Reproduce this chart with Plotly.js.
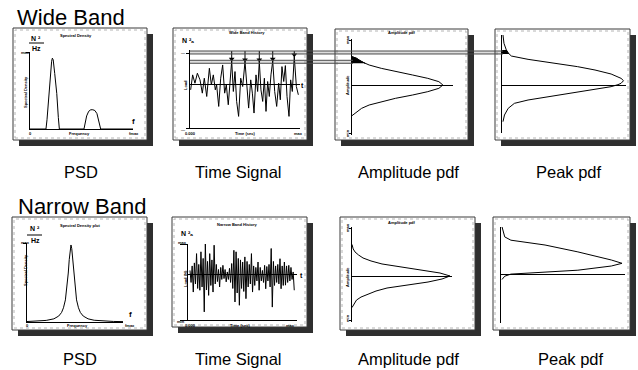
<!DOCTYPE html>
<html>
<head>
<meta charset="utf-8">
<script src="https://cdn.plot.ly/plotly-3.0.1.min.js"></script>
<style>
  html, body { margin: 0; padding: 0; background: #fff; }
  #chart { width: 638px; height: 370px; }
</style>
</head>
<body>
<div id="chart"></div>
<script>
// ---------------- data ----------------
// Wide band PSD (normalised frequency, normalised density)
const psdWideFreq = [0, 0.155, 0.165, 0.184, 0.200, 0.210, 0.217, 0.225, 0.240, 0.260, 0.275, 0.285,
                     0.524, 0.535, 0.550, 0.570, 0.590, 0.610, 0.630, 0.650, 0.665, 0.680, 0.686, 1.0];
const psdWideVal  = [0, 0, 0.12, 0.46, 0.75, 0.88, 0.92, 0.90, 0.72, 0.46, 0.15, 0,
                     0, 0.08, 0.17, 0.23, 0.25, 0.25, 0.24, 0.20, 0.13, 0.04, 0, 0];

// Wide band time history (normalised time, signal)
const timeWideT = [0.006, 0.024, 0.045, 0.067, 0.091, 0.112, 0.130, 0.152, 0.176, 0.194, 0.212, 0.230,
                   0.242, 0.261, 0.279, 0.297, 0.315, 0.330, 0.348, 0.364, 0.379, 0.394, 0.409, 0.424,
                   0.442, 0.461, 0.479, 0.500, 0.515, 0.533, 0.552, 0.567, 0.582, 0.600, 0.615, 0.630,
                   0.645, 0.661, 0.676, 0.691, 0.706, 0.721, 0.736, 0.752, 0.770, 0.788, 0.806, 0.821,
                   0.836, 0.852, 0.867, 0.882, 0.900, 0.915, 0.930, 0.948, 0.967, 0.985];
const timeWideV = [-0.15, 0.30, 0.05, 0.35, 0.15, -0.25, 0.20, -0.35, 0.50, 0.00, 0.30, -0.15,
                   0.00, -0.65, 0.20, 0.60, -0.25, 0.00, -0.60, 0.10, 0.72, -0.20, 0.40, -0.50,
                   -0.95, 0.20, -0.05, 0.70, -0.10, -0.70, 0.15, -0.25, -0.85, 0.30, -0.20, 0.70,
                   -0.15, -0.50, 0.20, -0.80, 0.10, -0.35, 0.30, 0.72, -0.20, -0.65, 0.05, -0.45,
                   0.55, 0.10, 0.58, -0.35, -0.95, 0.15, -0.20, 0.85, -0.05, -0.30];

// Peak level bands carried over to the pdf panels (signal units)
const bandUpper = [0.93, 1.02];
const bandLower = [0.65, 0.74];
const peakThreshold = 0.65;

// Wide band amplitude pdf (signal level, density)
const ampWideLevel = [-0.92, -0.85, -0.8, -0.7, -0.6, -0.5, -0.4, -0.3, -0.2, -0.1, 0,
                      0.1, 0.2, 0.3, 0.4, 0.5, 0.6, 0.65, 0.7, 0.75, 0.8, 0.85];
const ampWidePdf   = [0, 0.03, 0.05, 0.095, 0.17, 0.29, 0.43, 0.60, 0.75, 0.86, 0.90,
                      0.86, 0.75, 0.60, 0.43, 0.29, 0.17, 0.13, 0.095, 0.07, 0.045, 0];

// Wide band peak pdf (peak level, density)
const peakWideLevel = [-1.10, -0.90, -0.70, -0.55, -0.45, -0.37, -0.30, -0.21, -0.12, -0.05, 0.01,
                       0.05, 0.13, 0.20, 0.33, 0.45, 0.55, 0.62, 0.69, 0.77, 0.87, 0.93, 0.98,
                       1.05, 1.25, 1.50];
const peakWidePdf   = [0.008, 0.02, 0.05, 0.10, 0.21, 0.344, 0.48, 0.61, 0.75, 0.88, 0.935,
                       0.96, 0.98, 0.96, 0.88, 0.75, 0.61, 0.48, 0.344, 0.21, 0.075, 0.055, 0.045,
                       0.035, 0.016, 0.008];

// Narrow band PSD
const psdNarrowFreq = [0, 0.10, 0.20, 0.28, 0.33, 0.36, 0.38, 0.40, 0.42, 0.43, 0.44, 0.45, 0.458,
                       0.466, 0.476, 0.486, 0.496, 0.516, 0.536, 0.556, 0.586, 0.636, 0.70, 0.80, 0.90, 1.0];
const psdNarrowVal  = [0.006, 0.010, 0.020, 0.040, 0.075, 0.12, 0.18, 0.28, 0.47, 0.62, 0.79, 0.93, 0.975,
                       0.93, 0.79, 0.62, 0.47, 0.28, 0.18, 0.12, 0.075, 0.040, 0.022, 0.011, 0.007, 0.005];

// Narrow band time history (one value per sample)
const timeNarrowV = [0.15, -0.25, 0.30, -0.57, 0.40, -0.30, 0.71, -0.45, 0.35, -0.51, 0.77, -0.40,
                     0.55, -1.23, 1.04, -0.50, 0.45, -0.68, 0.71, -0.35, 0.50, -0.57, 0.99, -0.30,
                     0.35, -0.22, 0.18, -0.40, 0.25, -0.15, 0.32, -0.12, 0.18, -0.23, 0.10, -0.15,
                     0.22, -0.25, 0.38, -0.45, 0.82, -0.90, 0.77, -0.60, 0.55, -1.01, 0.50, -0.45,
                     0.43, -0.55, 0.60, -0.79, 0.45, -0.40, 0.35, -0.30, 0.71, -0.57, 0.30, -0.35,
                     0.25, -0.20, 0.43, -0.51, 0.25, -0.20, 0.15, -0.25, 0.32, -0.46, 0.28, -0.20,
                     0.35, -0.40, 0.88, -1.07, 0.45, -0.35, 0.30, -0.25, 0.35, -0.30, 0.54, -0.46,
                     0.30, -0.35, 0.43, -0.34, 0.30, -0.25, 0.32, -0.20, 0.25, -0.15, 0.10, -0.51];

// Narrow band amplitude pdf
const ampNarrowLevel = [-1.05, -0.9, -0.8, -0.7, -0.6, -0.5, -0.4, -0.3, -0.2, -0.1, 0,
                        0.1, 0.2, 0.3, 0.4, 0.5, 0.6, 0.7, 0.8, 0.9, 1.05];
const ampNarrowPdf   = [0, 0.025, 0.045, 0.09, 0.16, 0.24, 0.35, 0.55, 0.76, 0.90, 0.98,
                        0.88, 0.68, 0.45, 0.30, 0.19, 0.11, 0.065, 0.03, 0.012, 0];

// Narrow band peak pdf
const peakNarrowLevel = [-0.18, -0.07, 0.0, 0.07, 0.13, 0.27, 0.36, 0.47, 0.74, 0.97, 1.13, 1.24, 1.58];
const peakNarrowPdf   = [0.008, 0.03, 0.08, 0.355, 0.62, 0.89, 0.976, 0.89, 0.62, 0.355, 0.08, 0.03, 0.008];

// Panel captions
const rowTitles = ['Wide Band', 'Narrow Band'];
const captions = ['PSD', 'Time Signal', 'Amplitude pdf', 'Peak pdf'];

// ---------------- layout helpers ----------------
const W = 638, H = 370;
const px = x => x / W;
const py = y => 1 - y / H;
const xdom = (a, b) => [a / W, b / W];
const ydom = (top, bot) => [1 - bot / H, 1 - top / H];
const FONT = 'Liberation Sans, Arial, Helvetica, sans-serif';
const BLK = '#000';

const shapes = [];
const annotations = [];
const traces = [];

function frame(x0, y0, x1, y1) {
  shapes.push({type: 'rect', xref: 'paper', yref: 'paper', layer: 'below',
    x0: px(x0 + 6), x1: px(x1 + 6), y0: py(y1 + 6), y1: py(y0 + 6),
    fillcolor: '#2f2f2f', line: {width: 0}});
  shapes.push({type: 'rect', xref: 'paper', yref: 'paper', layer: 'below',
    x0: px(x0), x1: px(x1), y0: py(y1), y1: py(y0),
    fillcolor: '#ffffff', line: {color: '#3a3a3a', width: 1}});
  shapes.push({type: 'rect', xref: 'paper', yref: 'paper', layer: 'below',
    x0: px(x0 + 2), x1: px(x1 - 2), y0: py(y1 - 2), y1: py(y0 + 2),
    fillcolor: 'rgba(0,0,0,0)', line: {color: '#b4b4b4', width: 1, dash: 'dot'}});
}

function text(x, y, t, size, extra) {
  annotations.push(Object.assign({
    xref: 'paper', yref: 'paper', x: px(x), y: py(y), text: t, showarrow: false,
    xanchor: 'center', yanchor: 'middle', borderpad: 0,
    font: {family: FONT, size: size, color: BLK}
  }, extra || {}));
}
const tiny = (x, y, t, angle) => text(x, y, '<b>' + t + '</b>', 4, angle ? {textangle: angle} : {});

function axis(domain, range, extra) {
  return Object.assign({
    domain: domain, range: range, showgrid: false, zeroline: false, showticklabels: false,
    ticks: '', showline: false, linecolor: BLK, linewidth: 1, fixedrange: true
  }, extra || {});
}
const lineAxis = {showline: true};
const zeroAxis = {zeroline: true, zerolinecolor: BLK, zerolinewidth: 1};
const tickAxis = (vals, len) => ({tickmode: 'array', tickvals: vals, ticks: 'outside',
                                  ticklen: len, tickcolor: BLK, tickwidth: 1});

function curve(x, y, n, w) {
  traces.push({x: x, y: y, xaxis: 'x' + (n > 1 ? n : ''), yaxis: 'y' + (n > 1 ? n : ''),
               mode: 'lines', line: {color: BLK, width: w || 1}, hoverinfo: 'skip'});
}
function tail(levels, pdf, lo, hi, n) {
  const idx = levels.map((v, i) => i).filter(i => levels[i] >= lo && levels[i] <= hi);
  traces.push({x: idx.map(i => pdf[i]), y: idx.map(i => levels[i]),
               xaxis: 'x' + n, yaxis: 'y' + n, mode: 'lines', fill: 'tozerox',
               fillcolor: BLK, line: {color: BLK, width: 1}, hoverinfo: 'skip'});
}

// ---------------- panel frames ----------------
frame(13, 28, 147, 140);
frame(173, 28, 307, 140);
frame(335, 29, 468, 140);
frame(495, 29, 630, 140);
frame(12, 217, 147, 330);
frame(172, 217, 307, 327);
frame(340, 217, 475, 330);
frame(493, 217, 630, 330);

// ---------------- wide band row ----------------
curve(psdWideFreq, psdWideVal, 1);
curve(timeWideT, timeWideV, 2);

// peak markers on the wide band history
const peaks = timeWideV.map((v, i) => i).filter(i =>
  timeWideV[i] > peakThreshold &&
  (i === 0 || timeWideV[i] > timeWideV[i - 1]) &&
  (i === timeWideV.length - 1 || timeWideV[i] > timeWideV[i + 1]));
const stemX = [], stemY = [];
peaks.forEach(i => { stemX.push(timeWideT[i], timeWideT[i], null); stemY.push(timeWideV[i], bandUpper[1], null); });
traces.push({x: stemX, y: stemY, xaxis: 'x2', yaxis: 'y2', mode: 'lines',
             line: {color: BLK, width: 1}, hoverinfo: 'skip'});
traces.push({x: peaks.map(i => timeWideT[i]), y: peaks.map(i => timeWideV[i] + 0.06),
             xaxis: 'x2', yaxis: 'y2', mode: 'markers', cliponaxis: false,
             marker: {symbol: 'triangle-down', size: 5, color: BLK}, hoverinfo: 'skip'});

curve(ampWidePdf, ampWideLevel, 3);
tail(ampWideLevel, ampWidePdf, bandLower[0], 0.85, 3);
curve(peakWidePdf, peakWideLevel, 4);
tail(peakWideLevel, peakWidePdf, bandUpper[0], 1.05, 4);

// level bands running from the history into the pdf panels
function band(lv, xEnd) {
  shapes.push({type: 'rect', xref: 'paper', yref: 'y2', layer: 'above',
    x0: px(190), x1: px(xEnd), y0: lv[0], y1: lv[1],
    fillcolor: 'rgba(0,0,0,0.13)', line: {width: 0}});
  lv.forEach(v => shapes.push({type: 'line', xref: 'paper', yref: 'y2', layer: 'above',
    x0: px(190), x1: px(xEnd), y0: v, y1: v, line: {color: '#4a4a4a', width: 1}}));
}
band(bandUpper, 503);
band(bandLower, 353);

// ---------------- narrow band row ----------------
curve(psdNarrowFreq, psdNarrowVal, 5);
curve(timeNarrowV.map((v, i) => i), timeNarrowV, 6);
curve(ampNarrowPdf, ampNarrowLevel, 7);
curve(peakNarrowPdf, peakNarrowLevel, 8);

// ---------------- axes ----------------
const layout = {
  width: W, height: H, margin: {l: 0, r: 0, t: 0, b: 0},
  paper_bgcolor: '#ffffff', plot_bgcolor: 'rgba(0,0,0,0)', showlegend: false,
  font: {family: FONT, color: BLK},
  xaxis:  axis(xdom(30, 133), [0, 1], Object.assign({anchor: 'y'}, lineAxis)),
  yaxis:  axis(ydom(52, 129), [0, 1], Object.assign({anchor: 'x'}, lineAxis, tickAxis([1], 3))),
  xaxis2: axis(xdom(190, 300), [0, 1], Object.assign({anchor: 'y2'}, lineAxis)),
  yaxis2: axis(ydom(50, 128), [-1.3, 1.05], Object.assign({anchor: 'x2'}, lineAxis, zeroAxis, tickAxis([-1.3, 0.95], 3))),
  xaxis3: axis(xdom(352, 453), [0, 1], {anchor: 'y3', visible: false}),
  yaxis3: axis(ydom(39, 135), [-1.5, 1.38], Object.assign({anchor: 'x3'}, lineAxis, zeroAxis, tickAxis([-1.45, 1.33], 2))),
  xaxis4: axis(xdom(502, 626), [0, 1], {anchor: 'y4', visible: false}),
  yaxis4: axis(ydom(35, 133), [-1.44, 1.5], Object.assign({anchor: 'x4'}, lineAxis, zeroAxis)),
  xaxis5: axis(xdom(27, 123), [0, 1], Object.assign({anchor: 'y5'}, lineAxis)),
  yaxis5: axis(ydom(243, 322), [0, 1], Object.assign({anchor: 'x5'}, lineAxis, tickAxis([1], 3))),
  xaxis6: axis(xdom(188, 297), [-1.8, 97.5], Object.assign({anchor: 'y6'}, lineAxis)),
  yaxis6: axis(ydom(244, 320), [-1.5, 1.03], Object.assign({anchor: 'x6'}, lineAxis, zeroAxis, tickAxis([-1.5, 1.03], 7))),
  xaxis7: axis(xdom(352, 452), [0, 1], {anchor: 'y7', visible: false}),
  yaxis7: axis(ydom(227, 322), [-1.53, 1.63], Object.assign({anchor: 'x7'}, lineAxis, zeroAxis, tickAxis([-1.48, 1.58], 2))),
  xaxis8: axis(xdom(501, 625), [0, 1], {anchor: 'y8', visible: false}),
  yaxis8: axis(ydom(227, 323), [-1.63, 1.57], Object.assign({anchor: 'x8'}, lineAxis, zeroAxis)),
  shapes: shapes,
  annotations: annotations
};

// ---------------- texts ----------------
text(16, 18, rowTitles[0], 22, {xanchor: 'left'});
text(17, 207, rowTitles[1], 22, {xanchor: 'left'});

const capX = [81, 238, 408, 569];
capX.forEach((x, i) => text(x, 172, captions[i], 16.5));
const capX2 = [80, 238, 408, 571];
capX2.forEach((x, i) => text(x, 359, captions[i], 16.5));

// unit labels
text(36, 38, '<b>N ²</b>', 7);
shapes.push({type: 'line', xref: 'paper', yref: 'paper', x0: px(29), x1: px(44), y0: py(43), y1: py(43), line: {color: BLK, width: 1}});
text(36, 49, '<b>Hz</b>', 7);
text(35, 228, '<b>N ²</b>', 7);
shapes.push({type: 'line', xref: 'paper', yref: 'paper', x0: px(27), x1: px(42), y0: py(235), y1: py(235), line: {color: BLK, width: 1}});
text(35, 240, '<b>Hz</b>', 7);
text(188, 40, '<b>N ²ₐ</b>', 7);
text(187, 233, '<b>N ²ₐ</b>', 7);
text(133, 122, '<b>f</b>', 8);
text(130, 314, '<b>f</b>', 8);
text(302, 85, '<b>t</b>', 7);
text(301, 275, '<b>t</b>', 7);

// small panel headings and axis captions
tiny(76, 35.5, 'Spectral Density');
tiny(25, 52, 'max'); tiny(30, 133, '0'); tiny(80, 133, 'Frequency'); tiny(134, 133, 'fmax');
tiny(25, 92, 'Spectral Density', -90);
tiny(247, 32, 'Wide Band History');
tiny(183, 53, '—'); tiny(183, 129, '—');
tiny(185, 85, 'Load', -90);
tiny(190, 133, '0.000'); tiny(245, 133, 'Time (sec)'); tiny(298, 133, 'max');
tiny(402, 33, 'Amplitude pdf');
tiny(347, 40, 'max', -90); tiny(347, 133, 'min', -90); tiny(347, 85, 'Amplitude', -90);
tiny(80, 225, 'Spectral Density plot');
tiny(25, 243, 'max'); tiny(27, 325, '0'); tiny(77, 325, 'Frequency'); tiny(130, 325, 'fmax');
tiny(25, 270, 'Spectral Density', -90);
tiny(237, 224, 'Narrow Band History');
tiny(182, 243, 'max'); tiny(181, 321, 'min');
tiny(185, 279, 'Load (N)', -90);
tiny(190, 325, '0.000'); tiny(240, 325, 'Time (sec)'); tiny(290, 325, 'max');
tiny(402, 223, 'Amplitude pdf');
tiny(347, 228, 'max', -90); tiny(347, 318, 'min', -90); tiny(347, 277, 'Amplitude', -90);

Plotly.newPlot('chart', traces, layout, {staticPlot: true, displayModeBar: false});
</script>
</body>
</html>
